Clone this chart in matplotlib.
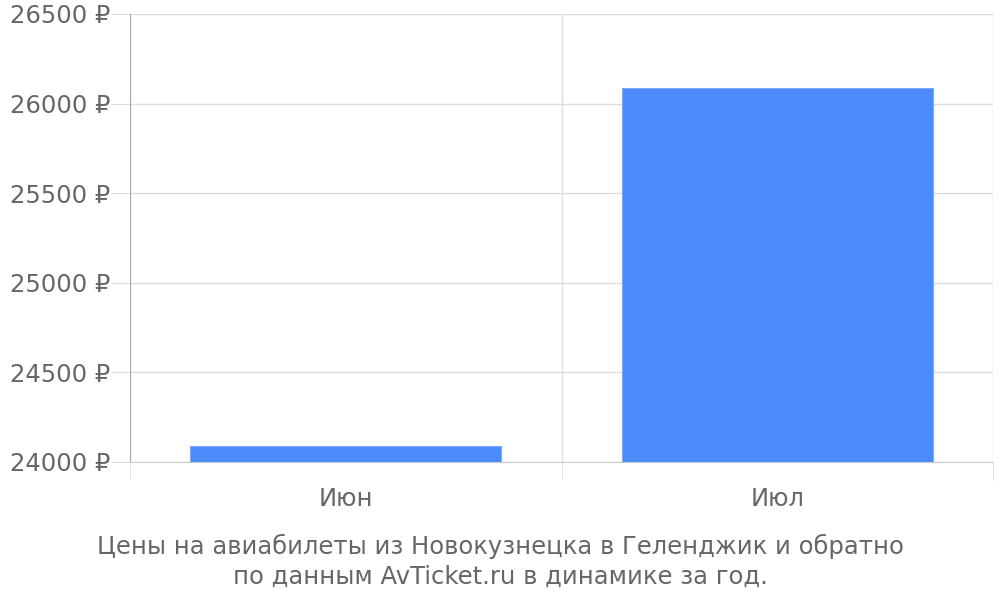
import matplotlib
matplotlib.use("Agg")
import matplotlib.pyplot as plt

months = ["Июн", "Июл"]
prices = [24088, 26087]
yticks = [24000, 24500, 25000, 25500, 26000, 26500]
caption = "Цены на авиабилеты из Новокузнецка в Геленджик и обратно\nпо данным AvTicket.ru в динамике за год."

plt.rcParams['font.family'] = ['DejaVu Sans']

fig = plt.figure(figsize=(10, 6), dpi=100)
ax = fig.add_axes([0.13, 0.23, 0.863, 0.7467])

x = list(range(len(months)))
ax.bar(x, [p - yticks[0] for p in prices], bottom=yticks[0], width=0.72,
       color="#4d8af9", edgecolor="#7aa8fb", linewidth=0.8, zorder=3)

ax.set_xlim(-0.5, len(months) - 0.5)
ax.set_ylim(yticks[0], yticks[-1])

ax.set_yticks(yticks)
ax.set_yticklabels([f"{v} ₽" for v in yticks])
ax.set_xticks(x)
ax.set_xticklabels(months)
ax.set_xticks([i - 0.5 for i in range(len(months) + 1)], minor=True)

ax.tick_params(axis="y", length=14, color="#dddddd", labelcolor="#666666",
               labelsize=17.5, pad=0)
ax.tick_params(axis="x", which="major", length=0, labelcolor="#666666",
               labelsize=17.5, pad=18)
ax.tick_params(axis="x", which="minor", length=13, color="#dddddd")

ax.grid(axis="y", color="#dddddd", linewidth=1, zorder=0)
ax.grid(axis="x", which="minor", color="#dddddd", linewidth=1, zorder=0)

for s in ["top", "right"]:
    ax.spines[s].set_visible(False)
ax.spines["left"].set_color("#aaaaaa")
ax.spines["bottom"].set_color("#cccccc")

fig.text(0.5, 0.065, caption, ha="center", va="center", fontsize=17.5,
         color="#666666", linespacing=1.3)

fig.savefig("out.png", dpi=100)
